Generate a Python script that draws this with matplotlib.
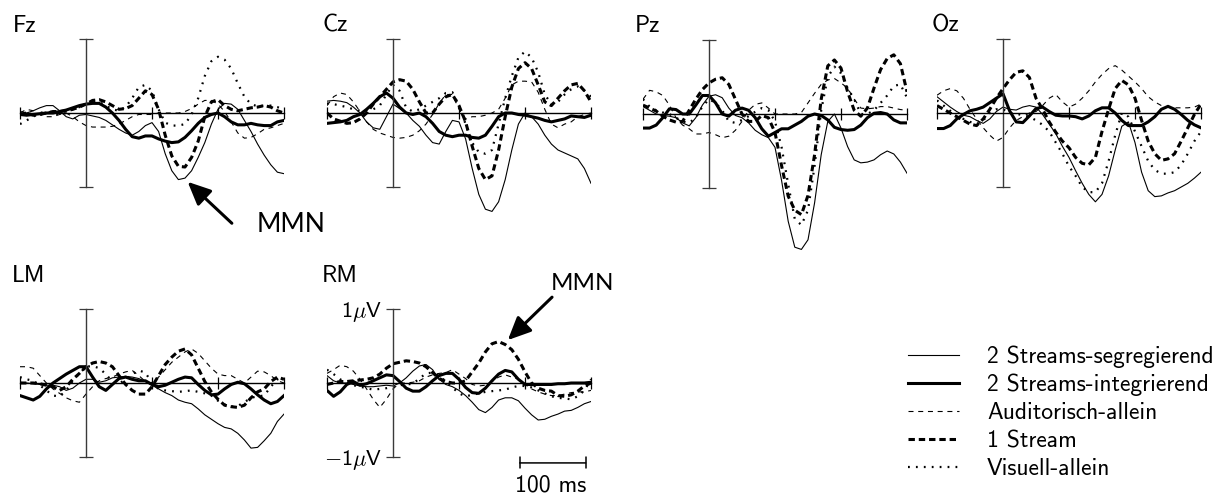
import numpy as np
import matplotlib
matplotlib.use('Agg')
import matplotlib.pyplot as plt
from matplotlib.lines import Line2D

# Schrift wie im Original (Computer Modern Sans), DejaVu als Ersatz fuer fehlende Zeichen
plt.rcParams['font.family'] = ['cmss10', 'DejaVu Sans']
plt.rcParams['mathtext.fontset'] = 'cm'
plt.rcParams['lines.scale_dashes'] = False
plt.rcParams['axes.unicode_minus'] = False

# Zeitachse in ms (Abtastpunkte alle 10 ms)
zeit = np.arange(-100, 301, 10)

# Werte in Mikrovolt
fz_seg = [0.02, 0.0, 0.03, 0.07, 0.1, 0.1, 0.03, -0.05, -0.08, -0.03,
          -0.02, -0.04, -0.06, -0.1, -0.16, -0.22, -0.27, -0.3, -0.25, -0.17,
          -0.13, -0.25, -0.55, -0.78, -0.9, -0.88, -0.78, -0.6, -0.4, -0.15,
          0.05, 0.13, 0.12, 0.05, -0.1, -0.25, -0.42, -0.57, -0.7, -0.8,
          -0.82]
fz_int = [-0.02, -0.03, -0.02, -0.01, 0.0, 0.0, 0.02, 0.04, 0.07, 0.1,
          0.12, 0.13, 0.13, 0.08, 0.0, -0.1, -0.22, -0.32, -0.34, -0.31,
          -0.31, -0.35, -0.38, -0.4, -0.39, -0.33, -0.24, -0.14, -0.06, -0.02,
          0.0, -0.05, -0.12, -0.16, -0.16, -0.14, -0.16, -0.17, -0.17, -0.12,
          -0.1]
fz_aud = [0.0, 0.05, 0.03, -0.02, -0.05, -0.05, -0.02, 0.0, -0.05, -0.12,
          -0.17, -0.19, -0.19, -0.19, -0.18, -0.15, -0.1, -0.05, -0.02, -0.02,
          -0.02, 0.0, 0.0, 0.0, 0.0, 0.02, 0.06, 0.12, 0.17, 0.17,
          0.12, 0.02, -0.12, -0.27, -0.34, -0.33, -0.28, -0.22, -0.2, -0.17,
          -0.14]
fz_one = [-0.02, 0.0, -0.03, -0.02, 0.0, 0.02, 0.02, 0.03, 0.05, 0.08,
          0.12, 0.17, 0.18, 0.15, 0.1, 0.05, 0.06, 0.1, 0.2, 0.3,
          0.25, 0.05, -0.3, -0.58, -0.72, -0.73, -0.6, -0.38, -0.05, 0.15,
          0.18, 0.1, 0.05, 0.03, 0.05, 0.07, 0.08, 0.1, 0.08, 0.03,
          0.0]
fz_vis = [-0.15, -0.1, -0.05, 0.0, 0.02, 0.0, -0.02, 0.0, 0.05, 0.08,
          0.12, 0.15, 0.15, 0.1, 0.05, 0.03, 0.08, 0.2, 0.35, 0.38,
          0.3, 0.05, -0.13, -0.17, -0.17, -0.15, -0.02, 0.2, 0.5, 0.7,
          0.76, 0.72, 0.6, 0.4, 0.22, 0.12, 0.09, 0.1, 0.1, 0.08,
          0.04]

cz_seg = [0.16, 0.17, 0.16, 0.14, 0.08, 0.0, -0.12, -0.2, -0.22, -0.05,
          0.12, 0.06, 0.0, -0.1, -0.18, -0.3, -0.4, -0.42, -0.25, -0.1,
          -0.12, -0.35, -0.75, -1.1, -1.3, -1.33, -1.2, -0.9, -0.5, -0.15,
          0.0, -0.05, -0.15, -0.3, -0.42, -0.5, -0.54, -0.58, -0.62, -0.75,
          -0.95]
cz_int = [-0.14, -0.13, -0.12, -0.1, -0.05, -0.02, 0.05, 0.13, 0.22, 0.27,
          0.2, 0.08, 0.0, -0.02, 0.0, -0.05, -0.14, -0.25, -0.3, -0.32,
          -0.3, -0.3, -0.33, -0.34, -0.3, -0.18, -0.05, 0.0, 0.0, -0.02,
          -0.03, -0.05, -0.07, -0.1, -0.12, -0.1, -0.08, -0.04, -0.05, -0.06,
          -0.03]
cz_aud = [0.1, 0.22, 0.27, 0.25, 0.15, 0.02, -0.12, -0.22, -0.27, -0.3,
          -0.33, -0.34, -0.33, -0.3, -0.24, -0.15, -0.02, 0.13, 0.25, 0.25,
          0.05, -0.08, -0.05, -0.05, -0.03, 0.0, 0.05, 0.2, 0.38, 0.43,
          0.43, 0.42, 0.28, 0.05, -0.15, -0.2, -0.15, -0.12, -0.05, -0.02,
          0.0]
cz_one = [0.0, -0.08, -0.11, -0.14, -0.13, -0.08, 0.0, 0.12, 0.22, 0.32,
          0.42, 0.45, 0.43, 0.32, 0.15, 0.0, 0.0, 0.12, 0.22, 0.25,
          0.1, -0.12, -0.45, -0.75, -0.9, -0.85, -0.5, -0.05, 0.35, 0.6,
          0.68, 0.6, 0.38, 0.15, 0.1, 0.2, 0.3, 0.38, 0.4, 0.3,
          0.15]
cz_vis = [0.13, 0.12, 0.1, 0.08, 0.05, 0.03, 0.04, 0.05, 0.1, 0.25,
          0.38, 0.3, 0.07, 0.02, 0.05, 0.1, 0.15, 0.2, 0.27, 0.28,
          0.1, -0.15, -0.4, -0.53, -0.55, -0.5, -0.15, 0.2, 0.5, 0.75,
          0.83, 0.75, 0.55, 0.25, 0.12, 0.15, 0.25, 0.32, 0.36, 0.3,
          0.22]

pz_seg = [0.1, 0.05, 0.0, -0.02, -0.03, -0.05, -0.12, -0.16, -0.05, 0.12,
          0.24, 0.26, 0.22, 0.08, -0.02, -0.05, -0.12, -0.22, -0.28, -0.32,
          -0.45, -0.9, -1.45, -1.8, -1.83, -1.7, -1.2, -0.55, -0.1, 0.0,
          -0.19, -0.44, -0.62, -0.66, -0.65, -0.62, -0.55, -0.5, -0.54, -0.65,
          -0.8]
pz_int = [-0.19, -0.19, -0.15, -0.05, 0.07, 0.06, 0.0, 0.0, 0.12, 0.25,
          0.25, 0.15, 0.0, -0.03, 0.05, 0.08, 0.05, -0.05, -0.2, -0.3,
          -0.25, -0.2, -0.2, -0.15, -0.1, -0.03, 0.0, -0.02, -0.08, -0.18,
          -0.21, -0.22, -0.21, -0.15, -0.05, 0.01, 0.02, 0.0, -0.08, -0.12,
          -0.12]
pz_aud = [0.2, 0.32, 0.3, 0.25, 0.12, -0.05, -0.15, -0.2, -0.27, -0.27,
          -0.25, -0.28, -0.32, -0.3, -0.22, -0.1, 0.05, 0.13, 0.15, 0.08,
          0.0, 0.0, 0.0, 0.0, 0.02, 0.15, 0.28, 0.4, 0.46, 0.48,
          0.42, 0.35, 0.2, 0.08, 0.07, 0.08, 0.1, 0.1, 0.08, 0.06,
          0.05]
pz_one = [0.12, 0.08, 0.04, -0.03, -0.08, -0.11, -0.1, 0.05, 0.2, 0.33,
          0.42, 0.47, 0.49, 0.4, 0.2, 0.0, -0.1, -0.1, -0.02, -0.05,
          -0.25, -0.7, -1.11, -1.3, -1.36, -1.1, -0.55, 0.2, 0.65, 0.73,
          0.62, 0.3, 0.05, -0.03, 0.08, 0.35, 0.6, 0.75, 0.8, 0.68,
          0.3]
pz_vis = [0.2, 0.1, 0.05, 0.02, 0.0, -0.05, -0.1, -0.12, -0.05, 0.1,
          0.2, 0.15, 0.05, -0.1, -0.12, -0.08, -0.03, 0.03, 0.08, 0.05,
          -0.1, -0.45, -0.95, -1.42, -1.5, -1.3, -0.7, 0.05, 0.5, 0.64,
          0.55, 0.35, 0.2, 0.0, 0.0, 0.05, 0.15, 0.25, 0.38, 0.4,
          0.22]

oz_seg = [0.22, 0.15, 0.08, 0.02, -0.03, -0.05, -0.1, -0.14, -0.08, 0.02,
          0.08, 0.05, 0.04, 0.08, 0.1, 0.08, -0.02, -0.15, -0.28, -0.45,
          -0.6, -0.78, -0.95, -1.1, -1.2, -1.1, -0.85, -0.5, -0.18, -0.12,
          -0.4, -0.8, -1.05, -1.13, -1.12, -1.08, -1.05, -1.0, -0.95, -0.88,
          -0.8]
oz_int = [-0.21, -0.21, -0.17, -0.08, -0.02, 0.03, 0.05, 0.08, 0.14, 0.2,
          0.26, 0.03, -0.12, -0.13, -0.04, 0.06, 0.08, 0.02, -0.03, -0.04,
          -0.04, -0.05, -0.08, -0.04, 0.03, 0.07, 0.07, 0.0, -0.1, -0.17,
          -0.17, -0.17, -0.12, -0.05, 0.05, 0.09, 0.05, -0.02, -0.1, -0.16,
          -0.2]
oz_aud = [0.24, 0.3, 0.33, 0.3, 0.2, 0.05, -0.08, -0.2, -0.3, -0.38,
          -0.33, -0.2, -0.1, -0.05, 0.0, 0.02, 0.1, 0.2, 0.25, 0.15,
          0.08, 0.12, 0.2, 0.3, 0.42, 0.52, 0.6, 0.64, 0.58, 0.5,
          0.42, 0.33, 0.22, 0.15, 0.1, 0.08, 0.07, 0.07, 0.07, 0.08,
          0.12]
oz_one = [0.1, 0.05, 0.0, -0.05, -0.1, -0.15, -0.17, -0.08, 0.05, 0.2,
          0.33, 0.45, 0.55, 0.57, 0.48, 0.2, 0.05, -0.12, -0.26, -0.38,
          -0.47, -0.6, -0.68, -0.7, -0.6, -0.25, 0.05, 0.33, 0.44, 0.38,
          0.2, -0.1, -0.38, -0.55, -0.64, -0.62, -0.55, -0.38, -0.2, -0.02,
          0.12]
oz_vis = [0.17, 0.1, 0.03, -0.05, -0.08, -0.12, -0.15, -0.1, 0.0, 0.05,
          0.05, 0.0, -0.01, -0.03, -0.05, -0.1, -0.16, -0.25, -0.4, -0.55,
          -0.72, -0.85, -1.0, -1.07, -1.07, -0.95, -0.65, -0.3, 0.0, -0.05,
          -0.25, -0.45, -0.65, -0.77, -0.82, -0.82, -0.8, -0.7, -0.55, -0.38,
          -0.25]

lm_seg = [0.01, 0.0, -0.01, -0.02, -0.03, -0.03, -0.05, -0.1, -0.07, 0.0,
          0.05, 0.05, 0.01, 0.03, 0.07, 0.08, 0.09, 0.08, 0.06, 0.02,
          -0.03, -0.08, -0.13, -0.17, -0.23, -0.26, -0.28, -0.35, -0.43, -0.49,
          -0.55, -0.6, -0.62, -0.68, -0.77, -0.88, -0.87, -0.78, -0.68, -0.52,
          -0.42]
lm_int = [-0.17, -0.2, -0.23, -0.18, -0.08, 0.0, 0.06, 0.12, 0.17, 0.22,
          0.22, 0.08, -0.05, -0.1, -0.02, 0.06, 0.08, 0.05, 0.03, 0.03,
          -0.02, -0.05, -0.03, 0.01, 0.05, 0.08, 0.07, -0.02, -0.1, -0.16,
          -0.15, -0.08, -0.02, 0.01, -0.01, -0.08, -0.16, -0.23, -0.28, -0.25,
          -0.17]
lm_aud = [0.22, 0.22, 0.2, 0.1, 0.0, -0.08, -0.14, -0.2, -0.24, -0.26,
          -0.15, -0.05, 0.03, 0.06, 0.08, 0.12, 0.15, 0.17, 0.1, 0.02,
          0.0, 0.08, 0.18, 0.28, 0.35, 0.42, 0.46, 0.4, 0.3, 0.2,
          0.12, 0.1, 0.1, 0.05, 0.0, 0.08, 0.16, 0.15, 0.1, 0.03,
          0.0]
lm_one = [0.0, 0.0, 0.0, -0.01, -0.03, -0.05, -0.1, -0.05, 0.05, 0.13,
          0.22, 0.27, 0.29, 0.27, 0.22, 0.1, -0.02, -0.1, -0.15, -0.15,
          -0.05, 0.1, 0.25, 0.35, 0.43, 0.46, 0.38, 0.2, 0.02, -0.12,
          -0.22, -0.3, -0.32, -0.33, -0.3, -0.2, -0.12, -0.08, 0.02, 0.08,
          0.05]
lm_vis = [0.08, 0.05, 0.03, -0.03, -0.1, -0.17, -0.18, -0.1, 0.03, 0.13,
          0.22, 0.23, 0.2, 0.12, 0.02, -0.01, 0.05, 0.12, 0.17, 0.14,
          0.0, -0.08, -0.1, -0.11, -0.12, -0.11, -0.1, -0.12, -0.14, -0.17,
          -0.24, -0.29, -0.32, -0.31, -0.26, -0.2, -0.18, -0.17, -0.05, 0.05,
          0.08]

rm_seg = [0.1, 0.03, 0.0, 0.0, -0.02, -0.04, -0.05, -0.05, -0.04, -0.03,
          -0.04, 0.0, 0.07, 0.16, 0.23, 0.25, 0.18, 0.05, -0.02, -0.05,
          -0.1, -0.17, -0.26, -0.36, -0.4, -0.33, -0.23, -0.2, -0.2, -0.24,
          -0.34, -0.43, -0.5, -0.49, -0.45, -0.42, -0.38, -0.37, -0.33, -0.28,
          -0.25]
rm_int = [-0.1, -0.18, -0.12, -0.02, 0.02, -0.03, -0.01, 0.03, 0.07, 0.11,
          0.1, 0.02, -0.07, -0.11, -0.11, -0.05, 0.03, 0.1, 0.13, 0.13,
          0.05, -0.06, -0.13, -0.14, -0.07, 0.03, 0.12, 0.17, 0.15, 0.05,
          -0.02, -0.02, -0.02, -0.02, -0.02, -0.01, -0.01, 0.0, 0.0, 0.0,
          0.01]
rm_aud = [0.13, 0.18, 0.24, 0.22, 0.16, 0.05, -0.08, -0.22, -0.33, -0.22,
          -0.08, 0.0, 0.0, 0.01, 0.03, 0.08, 0.11, 0.13, 0.14, 0.18,
          0.12, 0.06, -0.02, -0.04, -0.03, 0.02, 0.08, 0.11, 0.08, 0.05,
          -0.02, -0.08, -0.12, -0.15, -0.17, -0.17, -0.15, -0.13, -0.12, -0.12,
          -0.1]
rm_one = [-0.02, 0.0, 0.02, 0.02, 0.03, 0.04, 0.05, 0.07, 0.12, 0.2,
          0.26, 0.28, 0.3, 0.29, 0.27, 0.22, 0.14, 0.06, 0.02, 0.0,
          0.0, 0.03, 0.15, 0.27, 0.42, 0.53, 0.56, 0.52, 0.45, 0.32,
          0.15, 0.0, -0.07, -0.1, -0.11, -0.17, -0.18, -0.16, -0.11, -0.04,
          0.0]
rm_vis = [0.18, 0.12, 0.05, 0.0, -0.03, -0.05, -0.07, -0.09, -0.08, -0.07,
          -0.05, -0.03, -0.02, -0.01, 0.06, 0.13, 0.14, 0.1, 0.02, -0.06,
          -0.14, -0.18, -0.16, -0.14, -0.12, -0.11, -0.1, -0.09, -0.06, -0.04,
          -0.04, -0.06, -0.1, -0.14, -0.18, -0.2, -0.21, -0.22, -0.18, -0.1,
          0.05]

bedingungen = ['2 Streams-segregierend', '2 Streams-integrierend',
               'Auditorisch-allein', '1 Stream', 'Visuell-allein']
stile = [dict(lw=0.8),
         dict(lw=2.2),
         dict(lw=0.8, dashes=(3.6, 3.4)),
         dict(lw=2.2, dashes=(4.6, 2.8)),
         dict(lw=1.6, dashes=(1.3, 4.4))]

kurven = {
    'Fz': [fz_seg, fz_int, fz_aud, fz_one, fz_vis],
    'Cz': [cz_seg, cz_int, cz_aud, cz_one, cz_vis],
    'Pz': [pz_seg, pz_int, pz_aud, pz_one, pz_vis],
    'Oz': [oz_seg, oz_int, oz_aud, oz_one, oz_vis],
    'LM': [lm_seg, lm_int, lm_aud, lm_one, lm_vis],
    'RM': [rm_seg, rm_int, rm_aud, rm_one, rm_vis],
}

W, H = 1224, 496
PX_MS = 0.66   # Pixel pro ms
PX_UV = 74     # Pixel pro Mikrovolt

# linker Rand, Nulllinie (Pixel der Vorlage), ylim
panels = {
    'Fz': (20, 113, -1.95, 1.45),
    'Cz': (327, 113, -1.95, 1.45),
    'Pz': (643, 114, -1.95, 1.45),
    'Oz': (937, 113, -1.95, 1.45),
    'LM': (20, 383, -1.4, 1.45),
    'RM': (327, 383, -1.4, 1.45),
}
titel_pos = {'Fz': (13, 32), 'Cz': (323, 32), 'Pz': (635, 32), 'Oz': (932, 32),
             'LM': (12, 282), 'RM': (322, 282)}

fig = plt.figure(figsize=(W / 100, H / 100), dpi=100)
achsen = {}
for name, (x0, null, ylo, yhi) in panels.items():
    left = x0 / W
    width = 400 * PX_MS / W
    bottom = 1 - (null - ylo * PX_UV) / H
    height = (yhi - ylo) * PX_UV / H
    ax = fig.add_axes([left, bottom, width, height])
    ax.set_xlim(-100, 300)
    ax.set_ylim(ylo, yhi)
    ax.patch.set_visible(False)

    for werte, stil in zip(kurven[name], stile):
        ax.plot(zeit, werte, color='black', **stil)

    ax.spines[['top', 'right']].set_visible(False)
    ax.spines['left'].set_position(('data', 0))
    ax.spines['left'].set_bounds(-1, 1)
    ax.spines['left'].set_color('#3a3a3a')
    ax.spines['left'].set_linewidth(1.0)
    ax.spines['bottom'].set_position(('data', 0))
    ax.spines['bottom'].set_bounds(-100, 300)
    ax.spines['bottom'].set_linewidth(1.0)
    ax.set_xticks([-100, 100, 200, 300])
    ax.set_yticks([-1, 1])
    ax.tick_params(axis='x', direction='inout', length=8, width=0.9, labelbottom=False)
    ax.tick_params(axis='y', direction='inout', length=10, width=0.9, color='#3a3a3a',
                   labelleft=False)
    fig.text(titel_pos[name][0] / W, 1 - titel_pos[name][1] / H, name,
             fontsize=17, va='baseline')
    achsen[name] = ax

# Beschriftung der Spannungsachse nur bei RM
rm = achsen['RM']
rm.set_yticklabels(['$-$1$\\mu$V', '1$\\mu$V'])
rm.tick_params(axis='y', labelleft=True, labelsize=16, pad=3)

# MMN-Pfeile
pfeil = dict(arrowstyle='-|>,head_length=0.7,head_width=0.32', lw=2.2, color='black',
             shrinkA=0, shrinkB=0, mutation_scale=20)
achsen['Fz'].annotate('', xy=(154, -0.93), xytext=(221, -1.49), arrowprops=pfeil,
                      annotation_clip=False)
fig.text(257 / W, 1 - 232 / H, 'MMN', fontsize=19, family='Lato', va='baseline')
rm.annotate('', xy=(174, 0.58), xytext=(241, 1.16), arrowprops=pfeil,
            annotation_clip=False)
fig.text(551 / W, 1 - 290 / H, 'MMN', fontsize=17.5, family='Lato', va='baseline')

# Zeitmassstab
rm.annotate('', xy=(292, -1.08), xytext=(192, -1.08),
            arrowprops=dict(arrowstyle='|-|,widthA=0.4,widthB=0.4', lw=1.1,
                            shrinkA=0, shrinkB=0, mutation_scale=10),
            annotation_clip=False)
fig.text(551 / W, 1 - 491 / H, '100 ms', fontsize=17, ha='center', va='baseline')

# Legende
for i, (label, stil) in enumerate(zip(bedingungen, stile)):
    y = 355 + i * 28
    fig.add_artist(Line2D([908 / W, 959 / W], [1 - y / H, 1 - y / H],
                          color='black', **stil))
    fig.text(987 / W, 1 - (y + 8) / H, label, fontsize=17, va='baseline')

fig.savefig('out.png', dpi=100)
